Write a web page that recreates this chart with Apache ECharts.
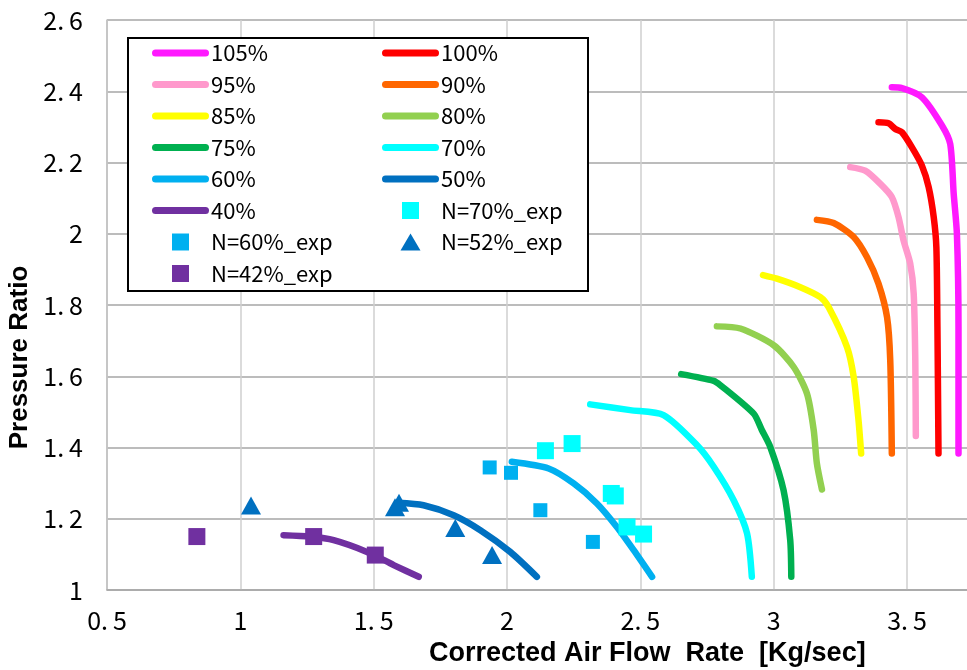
<!DOCTYPE html>
<html>
<head>
<meta charset="utf-8">
<script src="https://cdn.jsdelivr.net/npm/echarts@6/dist/echarts.min.js"></script>
<style>
html,body{margin:0;padding:0;background:#fff;}
#chart{width:967px;height:670px;}
</style>
</head>
<body>
<div id="chart"></div>
<script>
// ---- data (x: corrected air flow [kg/s], y: pressure ratio) ----
const xTicks = [0.5, 1, 1.5, 2, 2.5, 3, 3.5];
const yTicks = [1, 1.2, 1.4, 1.6, 1.8, 2, 2.2, 2.4, 2.6];

const s105 = [[3.443,2.411],[3.481,2.409],[3.556,2.383],[3.631,2.304],[3.662,2.252],[3.675,2.112],[3.687,2.0],[3.693,1.738],[3.693,1.383]];
const s100 = [[3.393,2.313],[3.431,2.310],[3.456,2.294],[3.481,2.285],[3.518,2.243],[3.556,2.191],[3.581,2.131],[3.600,2.047],[3.610,1.962],[3.614,1.738],[3.618,1.383]];
const s95  = [[3.287,2.187],[3.343,2.177],[3.400,2.140],[3.443,2.103],[3.468,2.047],[3.487,1.981],[3.512,1.916],[3.525,1.832],[3.531,1.645],[3.533,1.432]];
const s90  = [[3.162,2.039],[3.225,2.030],[3.300,1.991],[3.350,1.934],[3.393,1.860],[3.425,1.766],[3.437,1.645],[3.443,1.383]];
const s85  = [[2.960,1.884],[3.012,1.874],[3.100,1.850],[3.175,1.822],[3.206,1.794],[3.275,1.682],[3.300,1.598],[3.318,1.477],[3.328,1.383]];
const s80  = [[2.787,1.740],[2.875,1.734],[3.000,1.687],[3.075,1.626],[3.125,1.551],[3.150,1.449],[3.162,1.355],[3.181,1.282]];
const s75  = [[2.653,1.606],[2.775,1.587],[2.800,1.575],[2.925,1.495],[2.955,1.450],[2.987,1.402],[3.037,1.280],[3.062,1.140],[3.066,1.037]];
const s70  = [[2.312,1.521],[2.462,1.505],[2.587,1.491],[2.712,1.407],[2.775,1.346],[2.850,1.252],[2.900,1.159],[2.918,1.037]];
const s60  = [[2.018,1.360],[2.156,1.341],[2.250,1.299],[2.337,1.243],[2.412,1.177],[2.475,1.112],[2.544,1.037]];
const s50  = [[1.590,1.245],[1.687,1.238],[1.800,1.210],[1.900,1.168],[2.012,1.107],[2.112,1.037]];
const s40  = [[1.162,1.154],[1.262,1.150],[1.350,1.140],[1.475,1.107],[1.575,1.070],[1.669,1.037]];

const exp70 = [[2.144,1.391],[2.244,1.411],[2.391,1.271],[2.406,1.264],[2.450,1.177],[2.512,1.157]];
const exp60 = [[1.935,1.344],[2.015,1.329],[2.125,1.224],[2.322,1.135]];
const exp52 = [[1.040,1.237],[1.580,1.232],[1.595,1.245],[1.806,1.174],[1.944,1.098]];
const exp42 = [[0.837,1.150],[1.275,1.150],[1.506,1.098]];

const lineSeriesDefs = [
  ['105%', s105, '#FF19FF'],
  ['100%', s100, '#FF0000'],
  ['95%',  s95,  '#FF99CC'],
  ['90%',  s90,  '#FF6600'],
  ['85%',  s85,  '#FFFF00'],
  ['80%',  s80,  '#92D050'],
  ['75%',  s75,  '#00B050'],
  ['70%',  s70,  '#00FFFF'],
  ['60%',  s60,  '#00B0F0'],
  ['50%',  s50,  '#0070C0'],
  ['40%',  s40,  '#7030A0']
];
const scatterDefs = [
  ['N=70%_exp', exp70, '#00FFFF', 'rect', 17],
  ['N=60%_exp', exp60, '#00B0F0', 'rect', 14],
  ['N=52%_exp', exp52, '#0070C0', 'triangle', [20,18]],
  ['N=42%_exp', exp42, '#7030A0', 'rect', 17]
];

const FONT = '"Noto Sans CJK JP", sans-serif';
const BOLD = '"Liberation Sans", Arial, sans-serif';

const ICON_LINE = 'path://M3.5,0H53.5A3.5,3.5,0,0,1,53.5,7H3.5A3.5,3.5,0,0,1,3.5,0Z';
const ICON_SQ_BIG = 'path://M0,0H16V16H0Z';
const ICON_SQ_SMALL = 'path://M0,0H14V14H0Z';
const ICON_TRI = 'path://M10,0L20,17L0,17Z';

function tickFmt(v){
  const s = String(+(+v).toFixed(1));
  if (s.indexOf('.') < 0) return s;
  const p = s.split('.');
  return p[0] + '{d|.}' + p[1];
}

const series = [];
lineSeriesDefs.forEach(d => {
  series.push({
    name: d[0], type: 'line', data: d[1], smooth: 0.25,
    symbol: 'none', showSymbol: false,
    lineStyle: {color: d[2], width: 6.5, cap: 'round', join: 'round'},
    itemStyle: {color: d[2]}, z: 2
  });
});
scatterDefs.forEach(d => {
  series.push({
    name: d[0], type: 'scatter', data: d[1], symbol: d[3], symbolSize: d[4],
    itemStyle: {color: d[2], opacity: 1}, z: 3
  });
});

function legItem(name){
  let icon = ICON_LINE;
  if (name === 'N=60%_exp') icon = ICON_SQ_SMALL;
  else if (name === 'N=52%_exp') icon = ICON_TRI;
  else if (name.indexOf('exp') >= 0) icon = ICON_SQ_BIG;
  return {name: name, icon: icon};
}

const legendCommon = {
  orient: 'vertical', itemWidth: 57, itemHeight: 17, itemGap: 9.5,
  symbolKeepAspect: true,
  textStyle: {fontFamily: FONT, fontSize: 22, color: '#000', padding: [0,0,0,-3]},
  selectedMode: false, padding: 0, z: 10
};

const option = {
  animation: false,
  backgroundColor: '#fff',
  grid: {left: 107, top: 20, width: 866.7, height: 570, containLabel: false, outerBoundsMode: 'none'},
  xAxis: {
    type: 'value', min: 0.5, max: 3.75, interval: 0.5,
    name: 'Corrected Air Flow  Rate  [Kg/sec]', nameLocation: 'middle', nameGap: 50,
    nameTextStyle: {fontFamily: BOLD, fontWeight: 'bold', fontSize: 27, color: '#000', padding: [0,0,0,214]},
    axisLine: {show: true, lineStyle: {color: '#a6a6a6', width: 1.5}},
    axisTick: {show: false},
    axisLabel: {fontFamily: FONT, fontSize: 25, color: '#000', margin: 18, formatter: tickFmt,
      showMaxLabel: false,
      rich: {d: {fontFamily: FONT, fontSize: 25, color: '#000', padding: [0,5,0,0]}}},
    splitLine: {show: true, lineStyle: {color: '#cfcfcf', width: 1.5}}
  },
  yAxis: {
    type: 'value', min: 1, max: 2.6, interval: 0.2,
    name: 'Pressure Ratio', nameLocation: 'middle', nameGap: 63,
    nameTextStyle: {fontFamily: BOLD, fontWeight: 'bold', fontSize: 26, color: '#000', padding: [0,105,0,0]},
    axisLine: {show: true, lineStyle: {color: '#bfbfbf', width: 1.5}},
    axisTick: {show: false},
    axisLabel: {fontFamily: FONT, fontSize: 25, color: '#000', margin: 24, formatter: tickFmt,
      rich: {d: {fontFamily: FONT, fontSize: 25, color: '#000', padding: [0,5,0,0]}}},
    splitLine: {show: true, lineStyle: {color: '#a6a6a6', width: 1.5}}
  },
  legend: [
    Object.assign({left: 152, top: 42, data: ['105%','95%','85%','75%','60%','40%','N=60%_exp','N=42%_exp'].map(legItem)}, legendCommon),
    Object.assign({left: 382, top: 42, data: ['100%','90%','80%','70%','50%','N=70%_exp','N=52%_exp'].map(legItem)}, legendCommon)
  ],
  graphic: [{
    type: 'rect', left: 127, top: 37, z: 5,
    shape: {width: 460, height: 253},
    style: {fill: '#fff', stroke: '#000', lineWidth: 2}
  }],
  series: series
};

const chart = echarts.init(document.getElementById('chart'), null, {renderer: 'canvas'});
chart.setOption(option);
</script>
</body>
</html>
